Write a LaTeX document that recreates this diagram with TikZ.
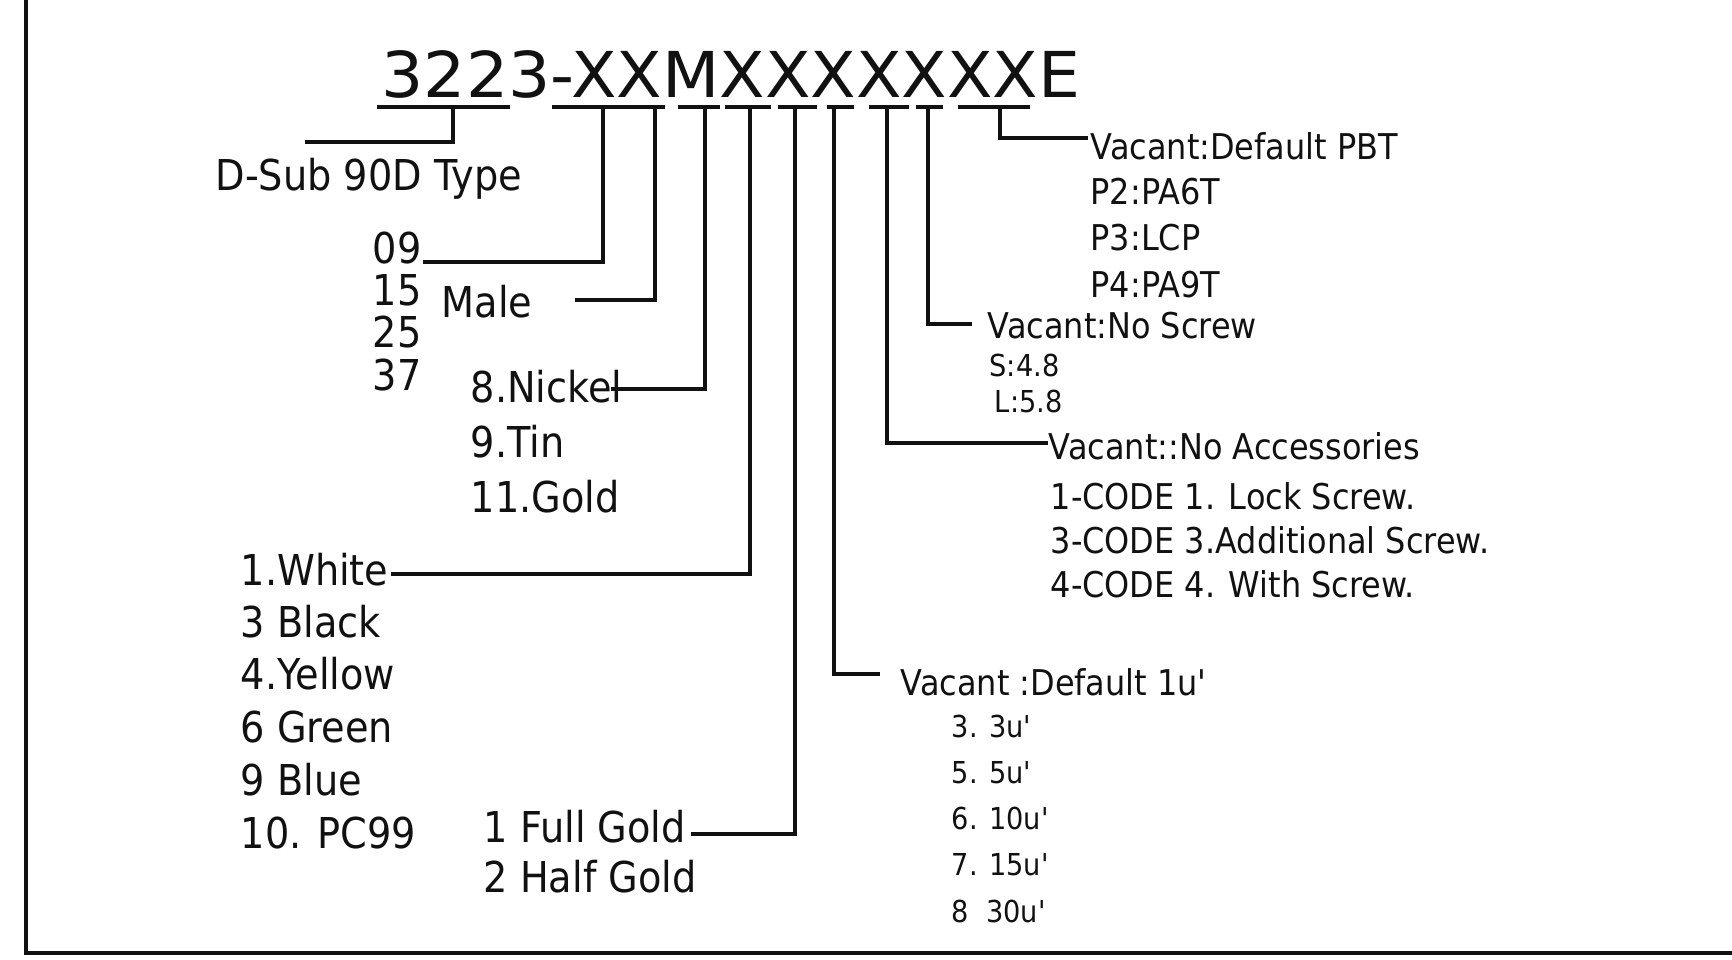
\documentclass[tikz,border=0pt]{standalone}
\usepackage{fontspec}
\setmainfont{DejaVu Sans}[FakeStretch=0.9]
\newfontfamily\codefont{DejaVu Sans}[FakeStretch=1.05]
\usetikzlibrary{positioning}
\definecolor{Ink}{HTML}{111111}
\tikzset{lbl/.style={inner sep=0pt,anchor=base west,align=left,text=Ink},bigtxt/.style={lbl,font=\fontsize{12.1}{14.5}\selectfont},midtxt/.style={lbl,font=\fontsize{10.1}{13}\selectfont},smalltxt/.style={lbl,font=\fontsize{8.6}{13}\selectfont},lead/.style={draw=Ink,line width=.9pt},frame/.style={draw=Ink,line width=1.2pt}}
\newcommand{\uq}{\textquotesingle}

\begin{document}
\begin{tikzpicture}[x=.1mm,y=-.1mm]
  \useasboundingbox (0,0) rectangle (1732,960);
  \draw[frame] (26,0) |- (1732,953);
  \node[lbl,font=\codefont\fontsize{18}{20}\selectfont](code) at (381,97){3223-XXMXXXXXXXE};
  \foreach \a/\b in {377/510,552/665,678/720,725/771,778/817,827/854,869/909,916/943,958/1030}
    \draw[lead] (\a,107)--(\b,107);
  % multi-line labels sit on the baseline of their last line
  \node[bigtxt](type) at (215,190){D-Sub 90D Type};
  \node[bigtxt,font=\fontsize{12.1}{12.04}\selectfont](size) at (372,390){09\\15\\25\\37};
  \node[bigtxt](sex) at (441,317){Male};
  \node[bigtxt](plate) at (470,402){8.Nickel};
  \node[bigtxt,font=\fontsize{12.1}{15.6}\selectfont](plate2) at (470,512){9.Tin\\11.Gold};
  \node[bigtxt](color) at (240,585){1.White};
  \node[bigtxt,font=\fontsize{12.1}{15}\selectfont](color2) at (240,848){3 Black\\4.Yellow\\6 Green\\9 Blue\\10. PC99};
  \node[bigtxt](gold) at (483,842){1 Full Gold};
  \node[bigtxt](gold2) at (483,892){2 Half Gold};
  \node[midtxt](thick) at (900,695){Vacant :Default 1u\uq};
  \node[smalltxt,font=\fontsize{8.6}{13.1}\selectfont](thick2) at (951,922){3. 3u\uq\\5. 5u\uq\\6. 10u\uq\\7. 15u\uq\\8\ \ 30u\uq};
  \node[midtxt](acc) at (1048,459){Vacant::No Accessories};
  \node[midtxt,font=\fontsize{10.1}{12.5}\selectfont](acc2) at (1050,597){1-CODE 1. Lock Screw.\\3-CODE 3.Additional Screw.\\4-CODE 4. With Screw.};
  \node[midtxt](screw) at (987,338){Vacant:No Screw};
  \node[smalltxt,font=\fontsize{8.6}{9.96}\selectfont](screw2) at (989,412){S:4.8\\\hspace{1.5pt}L:5.8};
  \node[midtxt](mat) at (1090,159){Vacant:Default PBT};
  \node[midtxt,font=\fontsize{10.1}{13.1}\selectfont](mat2) at (1090,297){P2:PA6T\\P3:LCP\\P4:PA9T};
  \foreach \n/\x/\ex/\ey in {type/453/305/142,size/603/423/262,sex/655/575/300,plate/705/611/389,color/750/391/574,gold/795/691/834,thick/834/880/674,acc/887/1048/443,screw/928/972/324,mat/1000/1088/138}{
    \coordinate(d\n) at (\x,107);\coordinate(e\n) at (\ex,\ey);
    \draw[lead] (d\n)|-(e\n);}
\end{tikzpicture}
\end{document}
